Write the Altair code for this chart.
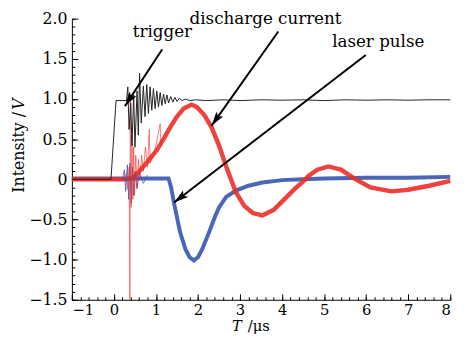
import math
import altair as alt
import pandas as pd

# ---------------- data ----------------
TRIGGER = [(-1.0, 0.0), (-0.07, 0.0), (0.05, 0.98), (0.30, 0.98), (0.33, 1.15), (0.36, 0.62),
           (0.40, 0.95), (0.43, 0.42), (0.47, 1.05), (0.50, 0.40), (0.55, 1.10), (0.58, 0.55),
           (0.61, 1.32), (0.65, 0.70), (0.70, 1.16), (0.74, 0.78), (0.78, 1.18), (0.82, 0.82),
           (0.86, 1.15), (0.90, 0.86), (0.94, 1.13), (0.98, 0.88), (1.02, 1.10), (1.06, 0.90),
           (1.10, 1.08), (1.14, 0.92), (1.18, 1.06), (1.22, 0.94), (1.26, 1.05), (1.30, 0.95),
           (1.35, 1.03), (1.40, 0.96), (1.45, 1.02), (1.50, 0.97), (1.56, 1.01), (1.62, 0.98),
           (1.70, 1.00), (1.80, 0.98), (1.95, 0.99), (2.2, 0.98), (2.6, 0.99), (3.0, 0.98),
           (3.5, 0.99), (4.0, 0.985), (4.5, 0.99), (5.0, 0.98), (5.5, 0.99), (6.0, 0.985),
           (6.5, 0.99), (7.0, 0.985), (7.5, 0.99), (8.0, 0.99)]

DISCHARGE = [(-1.0, 0.0), (0.3, 0.0), (0.45, 0.02), (0.57, 0.08), (0.8, 0.22), (1.03, 0.37),
             (1.2, 0.52), (1.34, 0.65), (1.5, 0.78), (1.66, 0.88), (1.85, 0.93), (1.97, 0.90),
             (2.15, 0.80), (2.32, 0.65), (2.5, 0.42), (2.67, 0.16), (2.9, -0.16), (3.1, -0.33),
             (3.3, -0.42), (3.53, -0.45), (3.8, -0.38), (4.07, -0.24), (4.3, -0.12), (4.47, -0.04),
             (4.65, 0.05), (4.84, 0.12), (5.1, 0.16), (5.4, 0.12), (5.75, 0.0), (6.1, -0.10),
             (6.6, -0.15), (7.0, -0.13), (7.5, -0.08), (8.0, -0.02)]

DISCHARGE_SPIKES = [(0.25, 0.0), (0.30, 0.08), (0.33, -0.12), (0.36, 0.15), (0.38, -1.5),
                    (0.39, 0.98), (0.41, -0.35), (0.43, 0.55), (0.45, -0.25), (0.47, 0.40),
                    (0.49, -0.20), (0.52, 0.30), (0.55, -0.10), (0.58, 0.25), (0.62, 0.0),
                    (0.66, 0.30), (0.70, 0.10), (0.75, 0.40), (0.80, 0.15), (0.84, 0.62),
                    (0.86, 0.20), (0.95, 0.30), (1.10, 0.69), (1.12, 0.40)]

LASER = [(-1.0, 0.01), (1.3, 0.01), (1.36, -0.10), (1.43, -0.30), (1.57, -0.65), (1.7, -0.87),
         (1.8, -0.97), (1.9, -1.01), (2.0, -0.97), (2.1, -0.87), (2.27, -0.65), (2.4, -0.47),
         (2.5, -0.35), (2.67, -0.22), (2.9, -0.14), (3.2, -0.08), (3.53, -0.04), (4.0, -0.01),
         (4.5, 0.0), (5.0, 0.01), (6.0, 0.02), (7.0, 0.02), (8.0, 0.03)]

LASER_SPIKES = [(0.20, 0.0), (0.25, 0.12), (0.28, -0.15), (0.32, 0.18), (0.35, -0.25),
                (0.38, 0.20), (0.41, -0.30), (0.44, 0.15), (0.47, -0.20), (0.50, 0.10),
                (0.55, -0.12), (0.60, 0.08), (0.70, -0.05), (0.80, 0.05)]

ANNOT_TEXT = ["trigger", "discharge current", "laser pulse"]
ANNOT_T = [0.45, 1.80, 5.19]
ANNOT_V = [1.77, 1.93, 1.645]
ARROW_T0 = [1.15, 3.91, 5.99]
ARROW_V0 = [1.62, 1.84, 1.547]
ARROW_T1 = [0.262, 2.32, 1.43]
ARROW_V1 = [0.911, 0.666, -0.289]

X_TICKS = [-1, 0, 1, 2, 3, 4, 5, 6, 7, 8]
Y_TICKS = [-1.5, -1.0, -0.5, 0.0, 0.5, 1.0, 1.5, 2.0]
X_MINOR = [round(-1 + 0.2 * i, 2) for i in range(46)]
Y_MINOR = [round(-1.5 + 0.1 * i, 2) for i in range(36)]

# ---------------- layout / style ----------------
W, H = 385, 286
FONT = "DejaVu Serif"
RED = "#ec2d27"
BLUE = "#3555b0"
BLACK = "#222222"

xs = alt.Scale(domain=[-1, 8], nice=False, zero=False)
ys = alt.Scale(domain=[-1.5, 2.0], nice=False, zero=False)


def frame(pairs):
    return pd.DataFrame(pairs, columns=["t", "v"])


y_label_expr = "datum.value == 0 ? '0' : replace(format(datum.value, '.1f'), '-', '\u2212')"
x_label_expr = "replace(format(datum.value, 'd'), '-', '\u2212')"

ax_x_labels = alt.Axis(orient="bottom", values=X_TICKS, ticks=False, labels=True, domain=True,
                       domainColor="black", domainWidth=1, labelExpr=x_label_expr,
                       labelFont=FONT, labelFontSize=15, labelColor="black", labelPadding=3,
                       title=None, grid=False)
ax_y_labels = alt.Axis(orient="left", values=Y_TICKS, ticks=False, labels=True, domain=True,
                       domainColor="black", domainWidth=1, labelExpr=y_label_expr,
                       labelFont=FONT, labelFontSize=16, labelColor="black", labelPadding=5,
                       title=None, grid=False)
ax_x_major = alt.Axis(orient="top", offset=-H, values=X_TICKS, ticks=True, tickSize=6,
                      tickColor="black", tickWidth=1, labels=False, domain=False, title=None, grid=False)
ax_y_major = alt.Axis(orient="right", offset=-W, values=Y_TICKS, ticks=True, tickSize=6,
                      tickColor="black", tickWidth=1, labels=False, domain=False, title=None, grid=False)
ax_x_minor = alt.Axis(orient="top", offset=-H, values=X_MINOR, ticks=True, tickSize=3,
                      tickColor="black", tickWidth=1, labels=False, domain=False, title=None, grid=False)
ax_y_minor = alt.Axis(orient="right", offset=-W, values=Y_MINOR, ticks=True, tickSize=3,
                      tickColor="black", tickWidth=1, labels=False, domain=False, title=None, grid=False)

laser_line = alt.Chart(frame(LASER)).mark_line(color=BLUE, strokeWidth=4, opacity=0.9).encode(
    x=alt.X("t:Q", scale=xs, axis=ax_x_labels), y=alt.Y("v:Q", scale=ys, axis=ax_y_labels))
laser_spk = alt.Chart(frame(LASER_SPIKES)).mark_line(color=BLUE, strokeWidth=1, opacity=0.8).encode(
    x=alt.X("t:Q", scale=xs, axis=None), y=alt.Y("v:Q", scale=ys, axis=None))
red_line = alt.Chart(frame(DISCHARGE)).mark_line(color=RED, strokeWidth=4.5, opacity=0.9).encode(
    x=alt.X("t:Q", scale=xs, axis=ax_x_major), y=alt.Y("v:Q", scale=ys, axis=ax_y_major))
red_spk = alt.Chart(frame(DISCHARGE_SPIKES)).mark_line(color=RED, strokeWidth=1, opacity=0.6).encode(
    x=alt.X("t:Q", scale=xs, axis=None), y=alt.Y("v:Q", scale=ys, axis=None))
trig_line = alt.Chart(frame(TRIGGER)).mark_line(color=BLACK, strokeWidth=1).encode(
    x=alt.X("t:Q", scale=xs, axis=ax_x_minor), y=alt.Y("v:Q", scale=ys, axis=ax_y_minor))

# arrows
sx, sy = W / 9.0, H / 3.5
angles = []
for t0, v0, t1, v1 in zip(ARROW_T0, ARROW_V0, ARROW_T1, ARROW_V1):
    dx = (t1 - t0) * sx
    dy = -(v1 - v0) * sy
    angles.append(math.degrees(math.atan2(dx, -dy)) % 360)

arrows_df = pd.DataFrame({"t0": ARROW_T0, "v0": ARROW_V0, "t1": ARROW_T1, "v1": ARROW_V1,
                          "ang": angles, "label": ANNOT_TEXT, "tt": ANNOT_T, "tv": ANNOT_V})

arrow_lines = alt.Chart(arrows_df).mark_rule(color="black", strokeWidth=2).encode(
    x=alt.X("t0:Q", scale=xs, axis=None), x2="t1:Q",
    y=alt.Y("v0:Q", scale=ys, axis=None), y2="v1:Q")
arrow_heads = alt.Chart(arrows_df).mark_point(
    shape="M0,0 L-0.6,2.1 L0,1.7 L0.6,2.1 Z", filled=True, color="black", opacity=1,
    size=196, strokeWidth=0).encode(
    x=alt.X("t1:Q", scale=xs, axis=None), y=alt.Y("v1:Q", scale=ys, axis=None),
    angle=alt.Angle("ang:Q", scale=None))
annot = alt.Chart(arrows_df).mark_text(font=FONT, fontSize=17, color="black", align="left",
                                       baseline="alphabetic").encode(
    x=alt.X("tt:Q", scale=xs, axis=None), y=alt.Y("tv:Q", scale=ys, axis=None), text="label:N")

# axis titles
ytitle_a = alt.Chart(pd.DataFrame({"s": ["Intensity /"]})).mark_text(
    font=FONT, fontSize=16, color="black", angle=270, align="left", baseline="middle").encode(
    text="s:N", x=alt.value(-54), y=alt.value(177))
ytitle_b = alt.Chart(pd.DataFrame({"s": ["V"]})).mark_text(
    font=FONT, fontSize=16, fontStyle="italic", color="black", angle=270, align="right",
    baseline="middle").encode(text="s:N", x=alt.value(-54), y=alt.value(81))
xtitle_a = alt.Chart(pd.DataFrame({"s": ["T"]})).mark_text(
    font=FONT, fontSize=15, fontStyle="italic", color="black", align="left", baseline="middle").encode(
    text="s:N", x=alt.value(163), y=alt.value(313))
xtitle_b = alt.Chart(pd.DataFrame({"s": ["/\u03bcs"]})).mark_text(
    font=FONT, fontSize=15, color="black", align="left", baseline="middle").encode(
    text="s:N", x=alt.value(179), y=alt.value(313))

chart = alt.layer(
    laser_line, red_line, laser_spk, red_spk, trig_line,
    arrow_lines, arrow_heads, annot, ytitle_a, ytitle_b, xtitle_a, xtitle_b
).resolve_scale(x="shared", y="shared").resolve_axis(x="independent", y="independent").properties(
    width=W, height=H, autosize=alt.AutoSizeParams(type="none"),
    padding={"left": 65, "top": 8, "right": 16, "bottom": 35},
    background="white"
).configure_view(stroke=None).configure_axis(grid=False)

chart.save("out.html", embed_options={"renderer": "svg", "actions": False})
